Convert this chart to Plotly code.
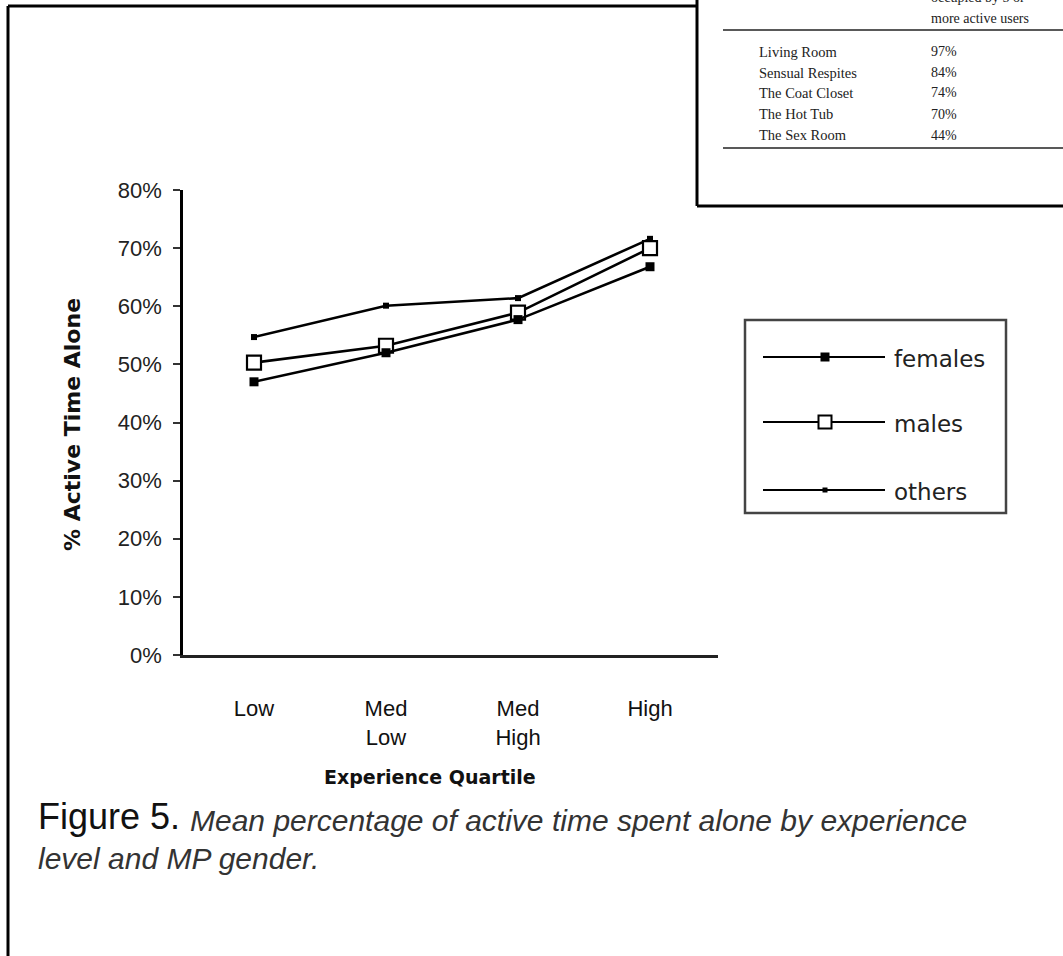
import plotly.graph_objects as go

W, H = 1063, 956

# ---- data ----
categories = ["Low", "Med<br>Low", "Med<br>High", "High"]
females = [47.0, 52.0, 57.7, 66.8]
males = [50.3, 53.2, 58.9, 70.0]
others = [54.7, 60.1, 61.4, 71.6]
y_ticks = [0, 10, 20, 30, 40, 50, 60, 70, 80]
y_tick_labels = [f"{v}%" for v in y_ticks]

table_rooms = ["Living Room", "Sensual Respites", "The Coat Closet", "The Hot Tub", "The Sex Room"]
table_values = ["97%", "84%", "74%", "70%", "44%"]

legend_names = ["females", "males", "others"]


def px(x):
    return x / W


def py(y):
    return 1 - y / H


xs = list(range(len(categories)))
fig = go.Figure()

font_main = "Liberation Sans, Arial, sans-serif"
font_wide = "DejaVu Sans, Verdana, sans-serif"
serif = "Liberation Serif, Times New Roman, serif"

fig.add_trace(go.Scatter(x=xs, y=others, mode="lines+markers", name="others",
                         line=dict(color="black", width=2.6),
                         marker=dict(symbol="square", size=6, color="black"),
                         showlegend=False))
fig.add_trace(go.Scatter(x=xs, y=males, mode="lines+markers", name="males",
                         line=dict(color="black", width=2.6),
                         marker=dict(symbol="square", size=14, color="white",
                                     line=dict(color="black", width=2.2)),
                         showlegend=False))
fig.add_trace(go.Scatter(x=xs, y=females, mode="lines+markers", name="females",
                         line=dict(color="black", width=2.6),
                         marker=dict(symbol="square", size=9, color="black"),
                         showlegend=False))

# legend samples in their own small axes (pixel-like units)
leg_y = [37, 102, 170]
leg_styles = [
    dict(symbol="square", size=9, color="black"),
    dict(symbol="square", size=13, color="white", line=dict(color="black", width=2)),
    dict(symbol="square", size=5, color="black"),
]
for name, yy, ms in zip(legend_names, leg_y, leg_styles):
    fig.add_trace(go.Scatter(x=[18, 140], y=[yy, yy], mode="lines", xaxis="x2", yaxis="y2",
                             line=dict(color="black", width=2.2), showlegend=False,
                             hoverinfo="skip"))
    fig.add_trace(go.Scatter(x=[80], y=[yy], mode="markers", xaxis="x2", yaxis="y2",
                             marker=ms, showlegend=False, name=name))

x0, x1 = 183, 718
y_top, y_bot = 190, 655
step = 132
first = 254

fig.update_layout(
    width=W, height=H,
    margin=dict(l=0, r=0, t=0, b=0, autoexpand=False),
    paper_bgcolor="white", plot_bgcolor="white",
    font=dict(family=font_main, color="#111"),
    xaxis=dict(domain=[px(x0), px(x1)], automargin=False,
               range=[(x0 - first) / step, (x1 - first) / step],
               tickmode="array", tickvals=xs, ticktext=categories,
               showgrid=False, zeroline=False, showline=True, linecolor="#222", linewidth=2.5,
               ticks="", tickfont=dict(size=22, color="#111"), ticklabelstandoff=32),
    yaxis=dict(domain=[py(y_bot), py(y_top)], range=[0, 80], automargin=False,
               tickmode="array", tickvals=y_ticks, ticktext=y_tick_labels,
               showgrid=False, zeroline=False, showline=True, linecolor="black", linewidth=2.5,
               ticks="outside", ticklen=7, tickwidth=2, tickcolor="#333",
               tickfont=dict(size=22, color="#222"), ticklabelstandoff=7),
    xaxis2=dict(domain=[px(745), px(1006)], range=[0, 261], visible=False, anchor="y2",
                automargin=False),
    yaxis2=dict(domain=[py(513), py(320)], range=[193, 0], visible=False, anchor="x2",
                automargin=False),
)

shapes = []
# legend border
shapes.append(dict(type="rect", xref="paper", yref="paper", x0=px(745), x1=px(1006),
                   y0=py(513), y1=py(320), line=dict(color="#444", width=2.5)))
# outer page frame
shapes.append(dict(type="line", xref="paper", yref="paper", x0=px(8), x1=px(8),
                   y0=py(6), y1=py(960), line=dict(color="black", width=3)))
shapes.append(dict(type="line", xref="paper", yref="paper", x0=px(8), x1=px(697),
                   y0=py(6), y1=py(6), line=dict(color="black", width=3)))
# inset table box
shapes.append(dict(type="line", xref="paper", yref="paper", x0=px(697), x1=px(697),
                   y0=py(-5), y1=py(206), line=dict(color="black", width=3)))
shapes.append(dict(type="line", xref="paper", yref="paper", x0=px(697), x1=px(1070),
                   y0=py(206), y1=py(206), line=dict(color="black", width=3)))
# table rules
shapes.append(dict(type="line", xref="paper", yref="paper", x0=px(723), x1=px(1070),
                   y0=py(30), y1=py(30), line=dict(color="#222", width=1.3)))
shapes.append(dict(type="line", xref="paper", yref="paper", x0=px(723), x1=px(1070),
                   y0=py(148), y1=py(148), line=dict(color="#222", width=1.3)))
fig.update_layout(shapes=shapes)

ann = []


def text(x, y, s, size, xanchor="left", yanchor="middle", family=font_main, color="#111", angle=0):
    ann.append(dict(x=px(x), y=py(y), xref="paper", yref="paper", text=s, showarrow=False,
                    xanchor=xanchor, yanchor=yanchor, textangle=angle,
                    font=dict(size=size, family=family, color=color)))


# axis titles
text(73, 425, "<b>% Active Time Alone</b>", 22, xanchor="center", family=font_wide, angle=-90)
text(430, 777, "<b>Experience Quartile</b>", 19, xanchor="center", family=font_wide)

# legend labels
for name, yy in zip(legend_names, leg_y):
    text(892, 320 + yy + 2, name, 23, family=font_wide, color="#222")

# table
text(929, -3, "occupied by 5 or", 14, family=serif, color="#222")
text(929, 18, "more active users", 14, family=serif, color="#222")
row_y = [52, 73, 93, 114, 135]
for room, val, yy in zip(table_rooms, table_values, row_y):
    text(757, yy, room, 14.5, family=serif, color="#222")
    text(929, yy, val, 14, family=serif, color="#222")

# caption
text(36, 816, "Figure 5.", 36, color="#111")
text(188, 820, "<i>Mean percentage of active time spent alone by experience</i>", 30, color="#333")
text(36, 858, "<i>level and MP gender.</i>", 30, color="#333")

fig.update_layout(annotations=ann)

fig.write_html(
    "out.html",
    config={"displayModeBar": False},
    post_script=(
        "document.body.style.margin='0';document.body.style.overflow='hidden';"
        "var g=document.getElementById('{plot_id}');g.style.position='fixed';"
        "g.style.left='0px';g.style.top='0px';"
    ),
)
